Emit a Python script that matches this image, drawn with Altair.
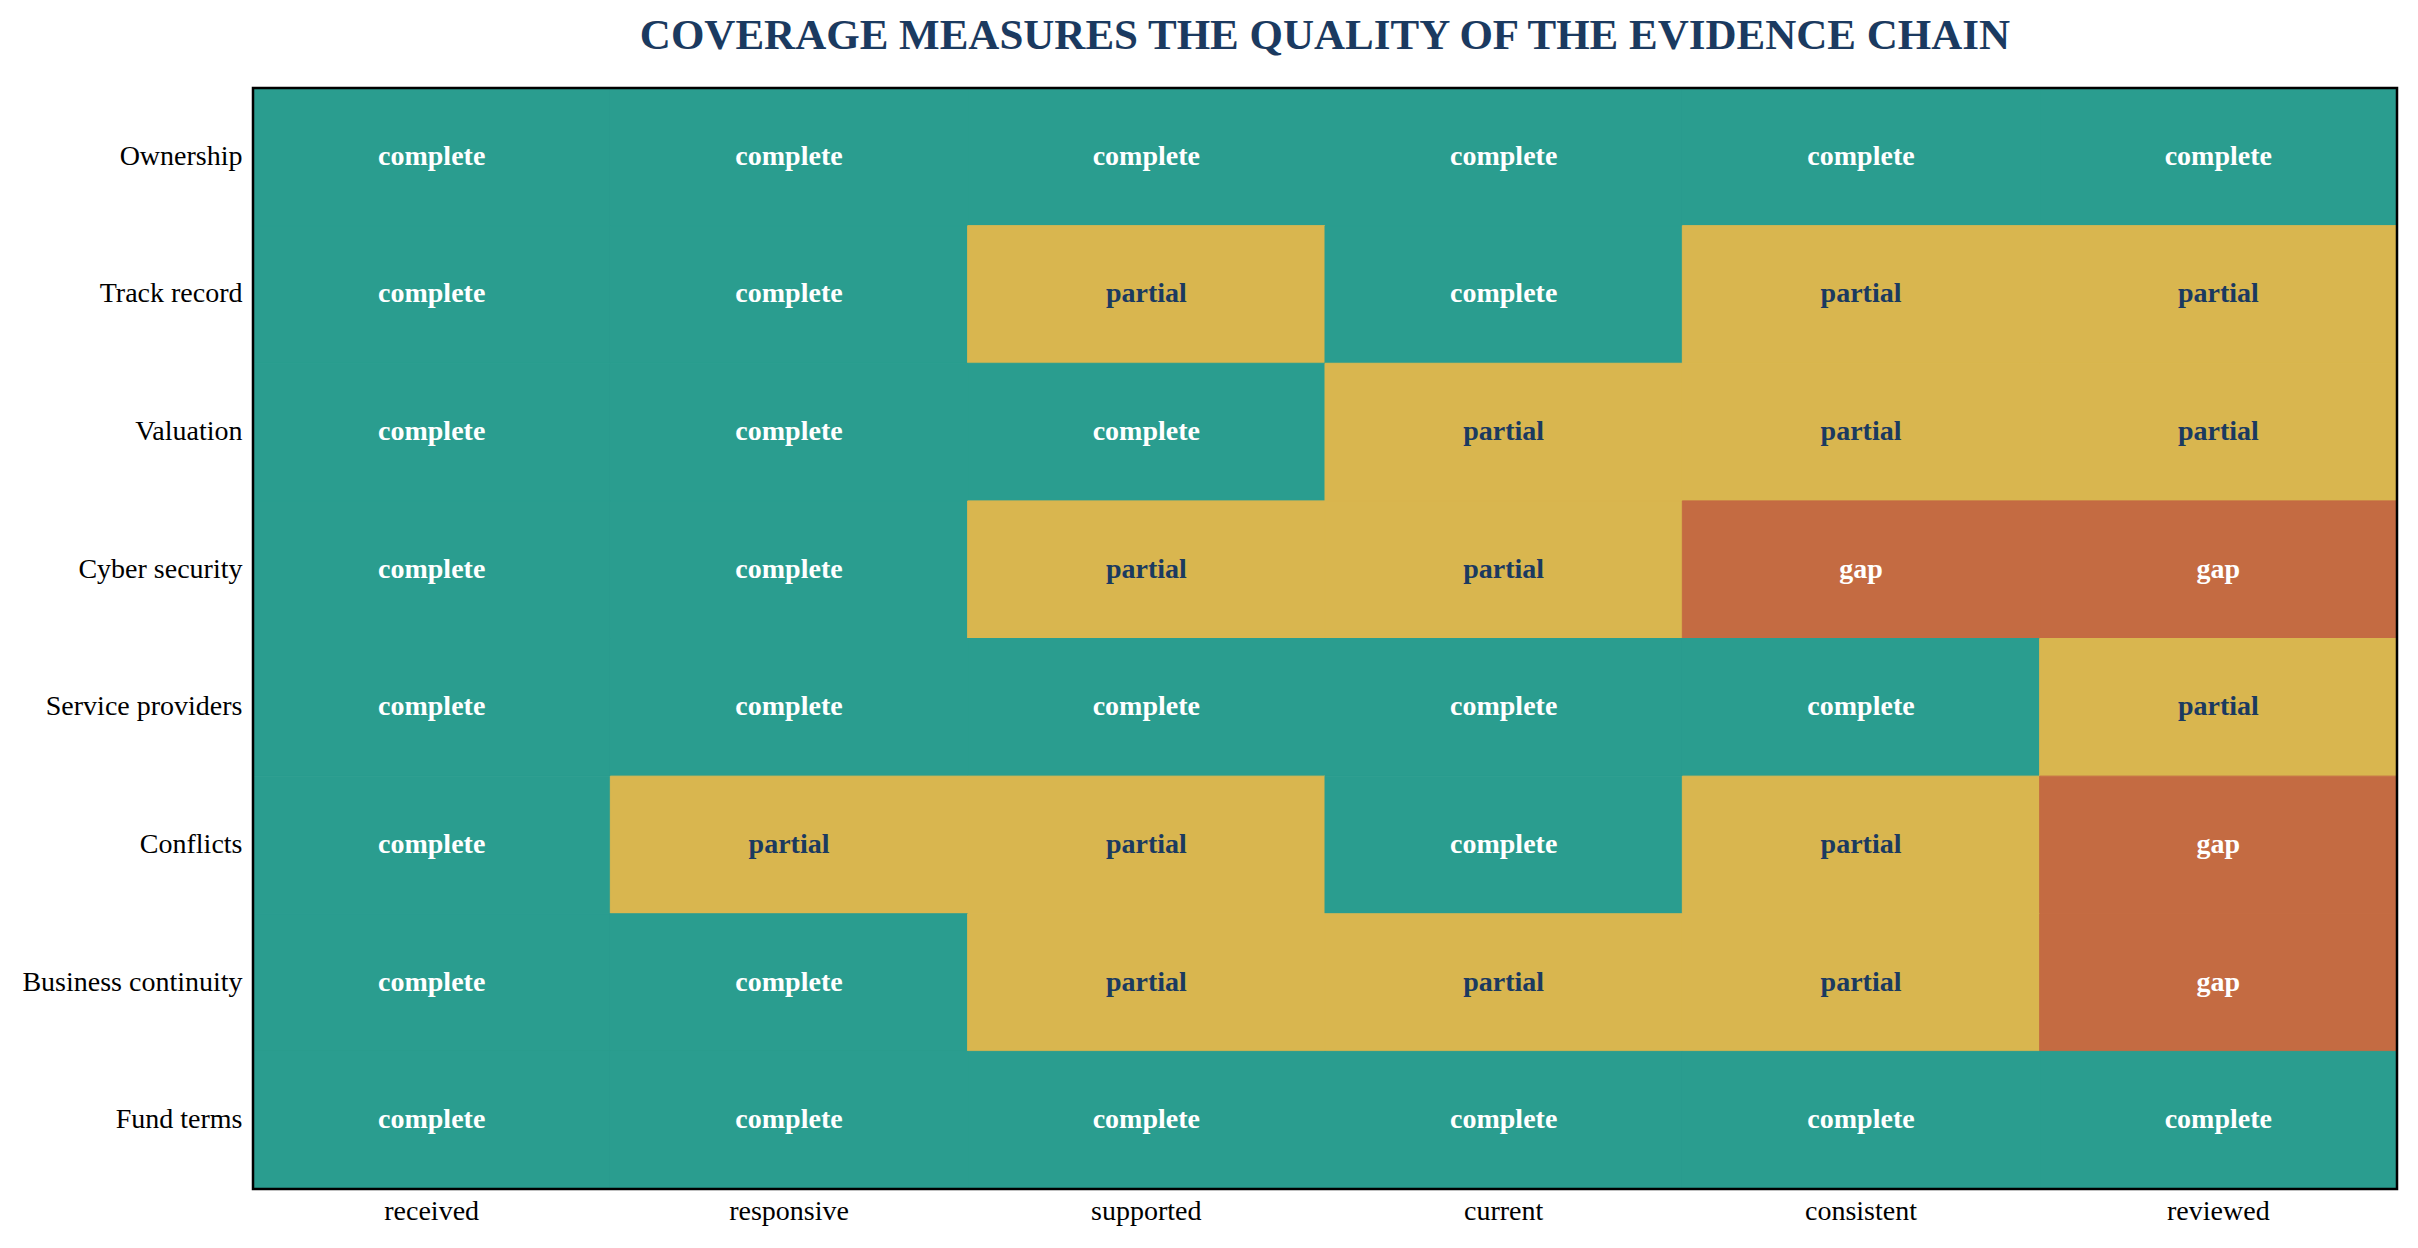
import altair as alt
import pandas as pd

rows = ["Ownership", "Track record", "Valuation", "Cyber security",
        "Service providers", "Conflicts", "Business continuity", "Fund terms"]
cols = ["received", "responsive", "supported", "current", "consistent", "reviewed"]

ownership = ["complete", "complete", "complete", "complete", "complete", "complete"]
track_record = ["complete", "complete", "partial", "complete", "partial", "partial"]
valuation = ["complete", "complete", "complete", "partial", "partial", "partial"]
cyber_security = ["complete", "complete", "partial", "partial", "gap", "gap"]
service_providers = ["complete", "complete", "complete", "complete", "complete", "partial"]
conflicts = ["complete", "partial", "partial", "complete", "partial", "gap"]
business_continuity = ["complete", "complete", "partial", "partial", "partial", "gap"]
fund_terms = ["complete", "complete", "complete", "complete", "complete", "complete"]

statuses = ["complete", "partial", "gap"]
status_colors = ["#2a9d8f", "#d9b64f", "#c46b42"]

grid = [ownership, track_record, valuation, cyber_security,
        service_providers, conflicts, business_continuity, fund_terms]

records = []
for r, vals in zip(rows, grid):
    for c, v in zip(cols, vals):
        records.append({"row": r, "col": c, "status": v})
df = pd.DataFrame(records)

FONT = "Liberation Serif"
W, H = 2144, 1101

base = alt.Chart(df).encode(
    x=alt.X("col:N", sort=cols, scale=alt.Scale(paddingInner=0, paddingOuter=0),
            axis=alt.Axis(title=None, orient="bottom", labelAngle=0, ticks=False, domain=False,
                          labelFont=FONT, labelFontSize=28, labelColor="black",
                          labelPadding=8, labelLimit=600)),
    y=alt.Y("row:N", sort=rows, scale=alt.Scale(paddingInner=0, paddingOuter=0),
            axis=alt.Axis(title=None, ticks=False, domain=False,
                          labelFont=FONT, labelFontSize=28, labelColor="black",
                          labelPadding=11, labelLimit=600)),
)

status_scale = alt.Scale(domain=statuses, range=status_colors)

rects = base.mark_rect(strokeWidth=1).encode(
    color=alt.Color("status:N", scale=status_scale, legend=None),
    stroke=alt.Stroke("status:N", scale=status_scale, legend=None),
)

labels = base.mark_text(font=FONT, fontSize=28, fontWeight="bold", baseline="middle").encode(
    text="status:N",
    color=alt.condition(alt.datum.status == "partial", alt.value("#1b3a60"), alt.value("white")),
)

frame = alt.Chart(pd.DataFrame({"k": [0]})).mark_rect(
    fill=None, fillOpacity=0, stroke="black", strokeWidth=2.5
).encode(
    x=alt.value(0), x2=alt.value(W), y=alt.value(0), y2=alt.value(H)
)

chart = alt.layer(rects, labels, frame).properties(
    width=W,
    height=H,
    title=alt.TitleParams(
        "COVERAGE MEASURES THE QUALITY OF THE EVIDENCE CHAIN",
        font=FONT, fontSize=43, fontWeight="bold", color="#1b3a60",
        anchor="middle", offset=29,
    ),
    autosize=alt.AutoSizeParams(type="none"),
    padding={"left": 245, "top": 80, "right": 13, "bottom": 50},
).configure_view(
    stroke=None
).configure(background="white")

chart.save("out.html", embed_options={"renderer": "svg", "actions": False})
